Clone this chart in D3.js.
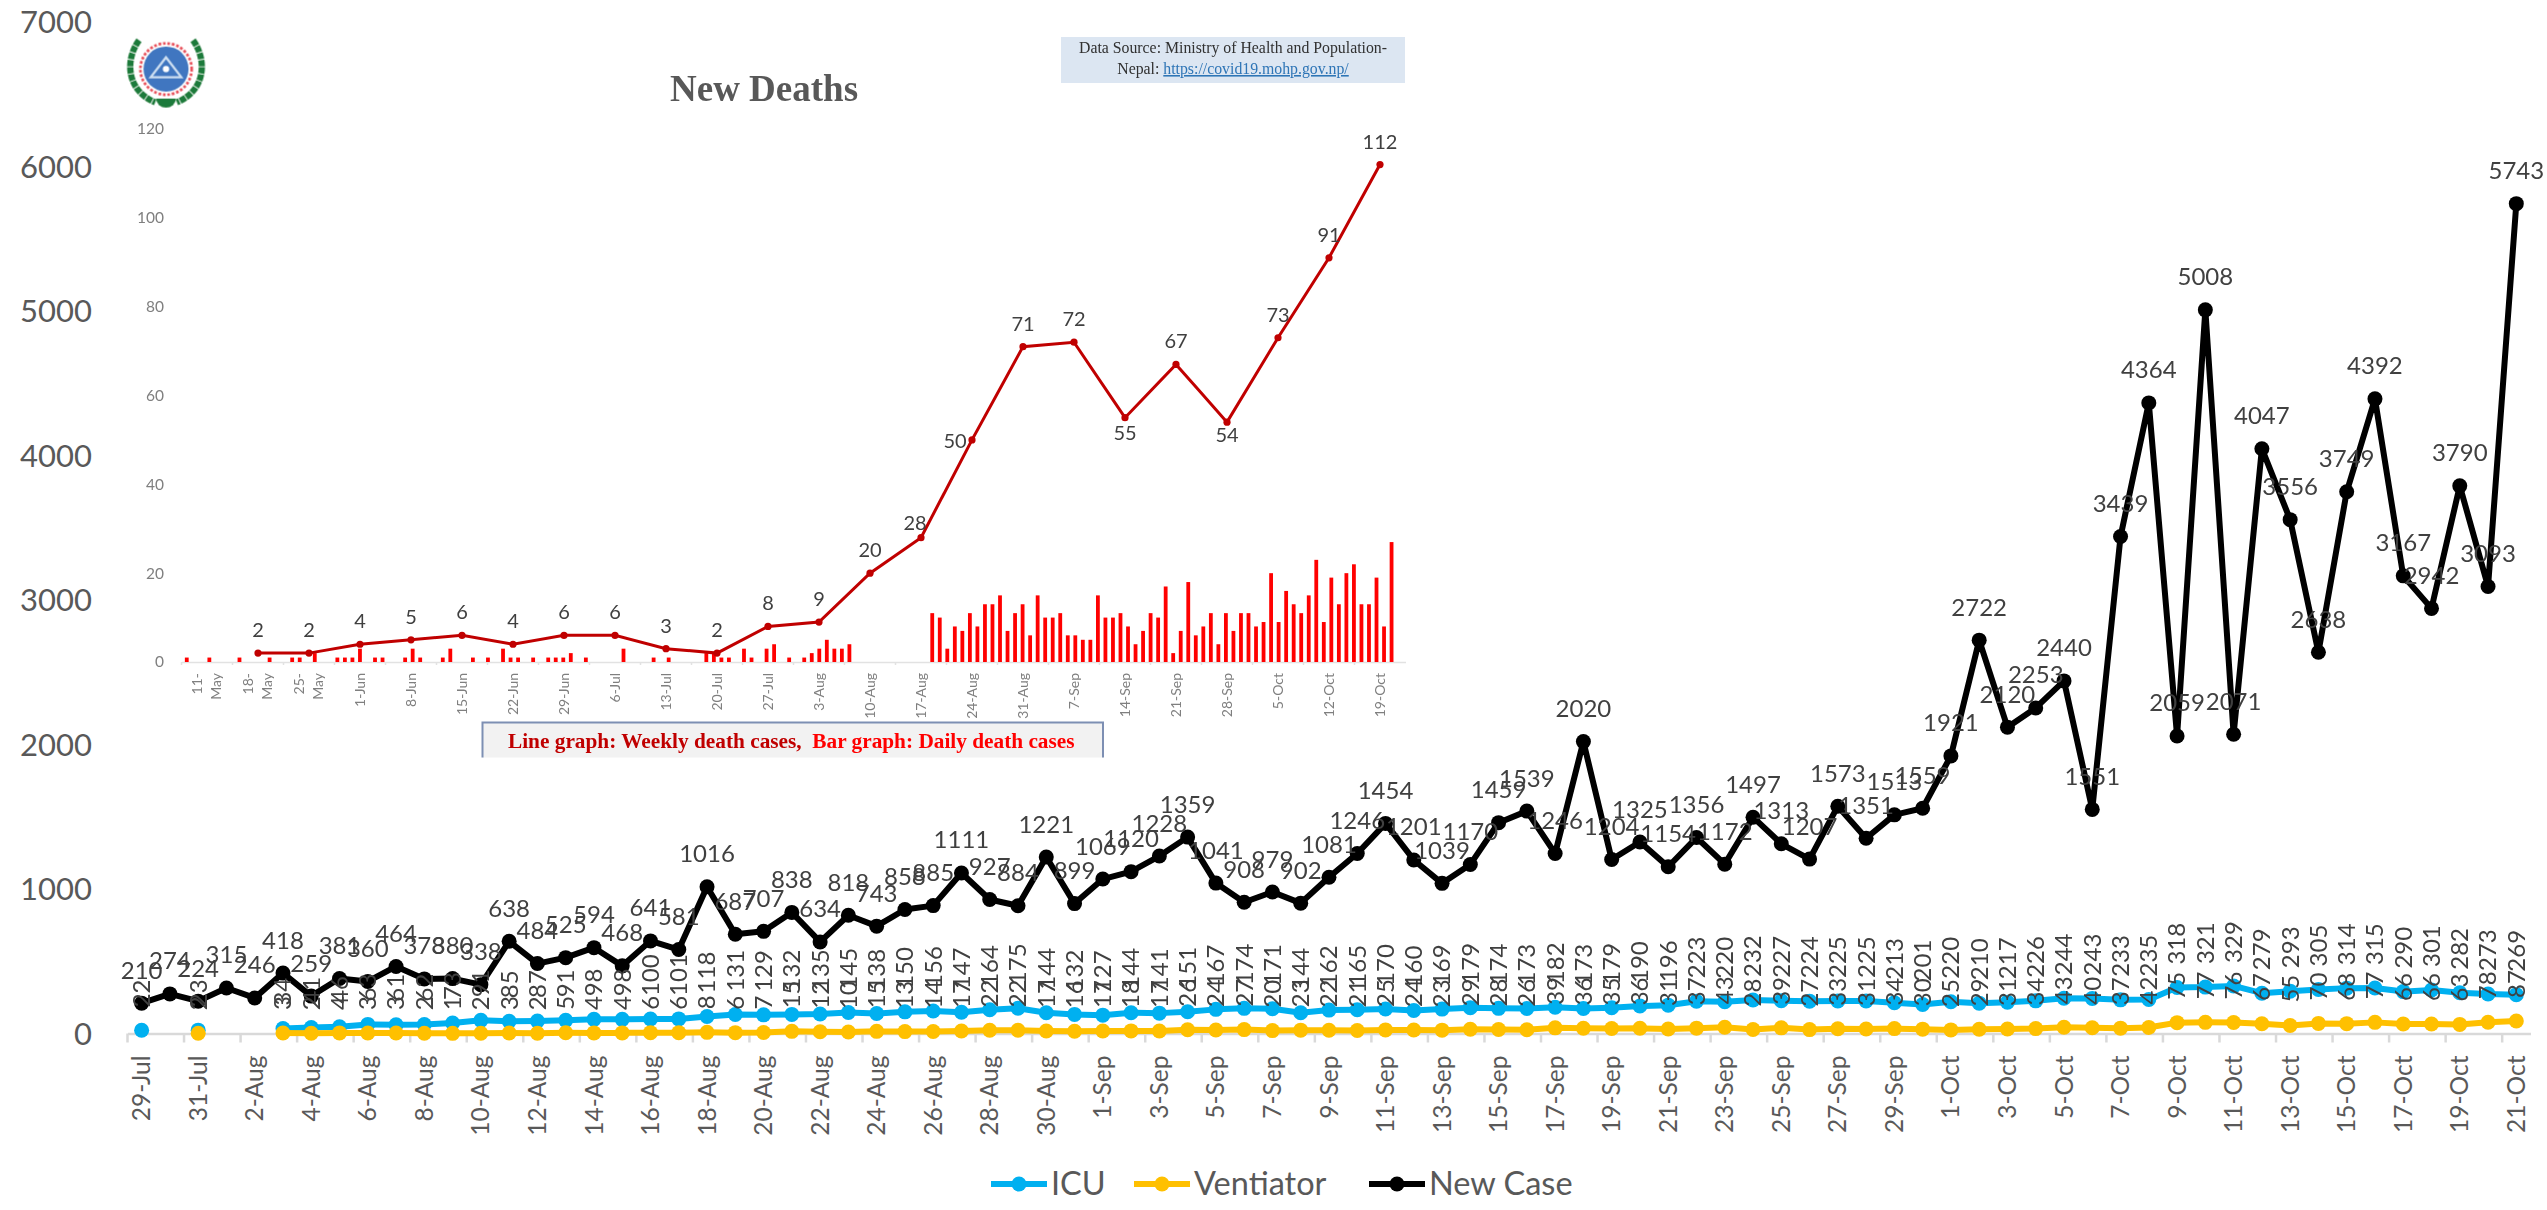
<!DOCTYPE html>
<html><head><meta charset="utf-8">
<script src="https://cdn.jsdelivr.net/npm/d3@7/dist/d3.min.js"></script>
<style>html,body{margin:0;background:#fff}svg{display:block}text{font-family:Lato,sans-serif;white-space:pre}</style>
</head><body><svg id="c" width="2547" height="1210"></svg>
<script>
// ---------- main chart data ----------
const startDate = "2020-07-29";
const newCase = [210,274,224,
 315,246,418,259,381,360,464,378,380,338,638,484,525,594,468,641,581,1016,687,707,838,634,818,743,858,885,1111,927,884,1221,899,
 1069,1120,1228,1359,1041,908,979,902,1081,1246,1454,1201,1039,1170,1459,1539,1246,2020,1204,1325,1154,1356,1172,1497,1313,1207,1573,1351,1513,1559,
 1921,2722,2120,2253,2440,1551,3439,4364,2059,5008,2071,4047,3556,2638,3749,4392,3167,2942,3790,3093,5743];
const icu = [22,null,23,null,null,34,41,46,63,61,62,73,91,85,87,91,98,98,100,101,118,131,129,132,135,145,138,150,156,147,164,175,144,132,
 127,144,141,151,167,174,171,144,162,165,170,160,169,179,174,173,182,173,179,190,196,223,220,232,227,224,225,225,213,201,
 220,210,217,226,244,243,233,235,318,321,329,279,293,305,314,315,290,301,282,273,269];
const ventilator = [null,null,2,null,null,3,2,4,3,3,2,1,2,3,2,5,4,4,6,6,8,6,7,15,12,10,15,13,14,17,22,22,17,16,
 17,18,17,26,24,27,20,23,22,21,25,24,23,29,28,26,39,36,35,36,31,37,43,28,39,27,33,31,34,30,
 25,29,31,34,43,40,37,42,75,77,76,67,55,70,68,77,66,66,63,78,87];
const yTicks = [0,1000,2000,3000,4000,5000,6000,7000];
const legendNames = ["ICU","Ventiator","New Case"];

// ---------- inset (New Deaths) data ----------
const weekLabels = ["11-May","18-May","25-May","1-Jun","8-Jun","15-Jun","22-Jun","29-Jun","6-Jul","13-Jul","20-Jul","27-Jul","3-Aug","10-Aug","17-Aug","24-Aug","31-Aug","7-Sep","14-Sep","21-Sep","28-Sep","5-Oct","12-Oct","19-Oct"];
const weeklyDeaths = [null,2,2,4,5,6,4,6,6,3,2,8,9,20,28,50,71,72,55,67,54,73,91,112];
const dailyDeaths = [1,0,0,1,0,0,0,1,0,0,
 0,1,0,0,1,1,0,2,0,0,
 1,1,1,3,0,1,1,0,0,1,
 3,1,0,0,1,3,0,0,1,0,
 1,0,3,1,1,0,1,0,1,1,
 1,2,0,1,0,0,0,0,3,0,
 0,0,1,0,1,0,0,0,0,2,
 2,1,1,0,3,1,0,3,4,0,
 1,0,1,2,3,5,3,3,4,0,
 0,0,0,0,0,0,0,0,0,
 11,10,3,8,7,11,8,13,13,15,7,11,13,6,15,10,10,11,6,6,5,5,15,10,10,11,8,4,7,11,10,17,
 2,7,18,6,8,11,4,11,7,11,11,8,9,20,9,16,13,11,15,23,9,19,13,20,22,13,13,19,8,27];
const insetYTicks = [0,20,40,60,80,100,120];

// ---------- helpers ----------
const fmt = d3.timeFormat("%-d-%b");
const d0 = d3.isoParse(startDate+"T12:00:00");
const dates = newCase.map((_,i)=>fmt(d3.timeDay.offset(d0,i)));
const svg = d3.select("#c");
const defs = svg.append("defs");
defs.append("filter").attr("id","soft").attr("x","-5%").attr("y","-5%").attr("width","110%").attr("height","110%")
  .append("feGaussianBlur").attr("stdDeviation",0.55);

// ---------- inset ----------
const ins = svg.append("g").attr("filter","url(#soft)");
const ix = d3.scaleBand().domain(weekLabels).range([181.5,1405.5]);
const iy = d3.scaleLinear().domain([0,120]).range([662,129]);
const dayX = d3.scaleBand().domain(d3.range(dailyDeaths.length)).range([183,183+161*7.53]);

// title + source box
ins.append("text").attr("x",670).attr("y",101).attr("font-size",37).attr("font-weight",700)
  .attr("fill","#595959").style("font-family","'Liberation Serif',serif").text("New Deaths");
ins.append("rect").attr("x",1061).attr("y",37).attr("width",344).attr("height",46).attr("fill","#DCE6F2");
const srcT = ins.append("g").style("font-family","'Liberation Serif',serif").attr("font-size",15.8).attr("fill","#303030");
srcT.append("text").attr("x",1233).attr("y",53).attr("text-anchor","middle").style("font-family","inherit").text("Data Source: Ministry of Health and Population-");
const t2 = srcT.append("text").attr("x",1233).attr("y",74).attr("text-anchor","middle").style("font-family","inherit");
t2.append("tspan").text("Nepal: ");
t2.append("tspan").attr("fill","#2E75B6").attr("text-decoration","underline").text("https://covid19.mohp.gov.np/");

// logo
const logo = ins.append("g").attr("transform","translate(166,69) scale(0.9)");
logo.append("path").attr("d","M-30,-32 C-46,-10 -44,24 -12,37").attr("fill","none").attr("stroke","#1f7a3a").attr("stroke-width",7).attr("stroke-dasharray","7 1");
logo.append("path").attr("d","M30,-32 C46,-10 44,24 12,37").attr("fill","none").attr("stroke","#1f7a3a").attr("stroke-width",7).attr("stroke-dasharray","7 1");
logo.append("path").attr("d","M-11,33 A11,10 0 0 0 11,33 Z").attr("fill","#1f7a3a");
logo.append("circle").attr("r",32).attr("fill","#fff");
logo.append("circle").attr("r",28.5).attr("fill","none").attr("stroke","#e8505a").attr("stroke-width",3).attr("stroke-dasharray","3 2");
logo.append("circle").attr("r",25).attr("fill","#3f76c0");
logo.append("path").attr("d","M0,-13 L17,9 L-17,9 Z").attr("fill","none").attr("stroke","#cfe0f2").attr("stroke-width",2.5);
logo.append("circle").attr("r",3.5).attr("cy",0).attr("fill","#fff");

// axes
const iAxisG = ins.append("g").attr("transform","translate(0,662)");
iAxisG.call(d3.axisBottom(ix).tickSize(0).tickFormat(""));
iAxisG.select(".domain").attr("stroke","#e2e2e2").attr("stroke-width",1.5);
iAxisG.selectAll("line.b").data(weekLabels).join("line").attr("class","b")
  .attr("x1",d=>ix(d)).attr("x2",d=>ix(d)).attr("y1",0).attr("y2",3).attr("stroke","#e2e2e2").attr("stroke-width",1.5);
iAxisG.selectAll("g.tick").each(function(d){
  const g=d3.select(this); g.select("text").remove();
  const parts = d.endsWith("May") ? d.split("-").map((s,i)=>i==0?s+"-":s) : [d];
  parts.forEach((p,i)=>{
    g.append("text").attr("transform","rotate(-90)").attr("x",-11).attr("text-anchor","end")
     .attr("y",(parts.length>1? (i==0?-10:9):0)).attr("dy","0.35em").attr("font-size",14).attr("fill","#7f7f7f").text(p);
  });
});
const iyG = ins.append("g").attr("transform","translate(164,0)")
  .call(d3.axisLeft(iy).tickValues(insetYTicks).tickSize(0).tickPadding(0));
iyG.select(".domain").remove();
iyG.selectAll("text").attr("font-size",15.5).attr("fill","#7f7f7f").style("font-family","Lato");

// daily bars
ins.append("g").selectAll("rect").data(dailyDeaths).join("rect")
  .attr("x",(d,i)=>dayX(i)+dayX.bandwidth()/2-1.9).attr("width",3.8)
  .attr("y",d=>iy(d)).attr("height",d=>iy(0)-iy(d)).attr("fill","#FF0000");

// weekly line
const iLine = d3.line().defined(d=>d!=null).x((d,i)=>ix(weekLabels[i])+ix.bandwidth()/2).y(d=>iy(d));
ins.append("path").attr("d",iLine(weeklyDeaths)).attr("fill","none").attr("stroke","#C00000").attr("stroke-width",3);
ins.append("g").selectAll("circle").data(weeklyDeaths.map((v,i)=>({v,w:weekLabels[i]})).filter(d=>d.v!=null)).join("circle")
  .attr("cx",d=>ix(d.w)+ix.bandwidth()/2).attr("cy",d=>iy(d.v)).attr("r",3.6).attr("fill","#C00000");
const nudge = {"17-Aug":[-6,8],"24-Aug":[-17,24],"14-Sep":[0,38],"28-Sep":[0,36]};
ins.append("g").selectAll("text").data(weeklyDeaths.map((v,i)=>({v,w:weekLabels[i]})).filter(d=>d.v!=null)).join("text")
  .attr("x",d=>ix(d.w)+ix.bandwidth()/2+((nudge[d.w]||[0,0])[0]))
  .attr("y",d=>iy(d.v)-16+((nudge[d.w]||[0,0])[1]))
  .attr("text-anchor","middle").attr("font-size",20).attr("fill","#404040").text(d=>d.v);

// note box
const nb = ins.append("g");
nb.append("rect").attr("x",482.5).attr("y",722.5).attr("width",620.5).attr("height",35).attr("fill","#F2F2F2");
nb.append("path").attr("d","M482.5,757.5 V722.5 H1103 V757.5").attr("fill","none").attr("stroke","#7d8fb3").attr("stroke-width",2);
const nt = nb.append("text").attr("x",508).attr("y",748).attr("font-size",21.3).attr("font-weight",700).style("font-family","'Liberation Serif',serif");
nt.append("tspan").attr("fill","#C00000").style("font-family","inherit").text("Line graph: Weekly death cases,  ");
nt.append("tspan").attr("fill","#FF0000").style("font-family","inherit").text("Bar graph: Daily death cases");

// ---------- main chart ----------
const x = d3.scaleBand().domain(dates).range([127.5,127.5+85*28.27]);
const y = d3.scaleLinear().domain([0,7000]).range([1033.5,22]);
const cx = i => x(dates[i])+x.bandwidth()/2;

const yG = svg.append("g").attr("transform","translate(92,1)")
  .call(d3.axisLeft(y).tickValues(yTicks).tickSize(0).tickPadding(0).tickFormat(d3.format("d")));
yG.select(".domain").remove();
yG.selectAll("text").attr("font-size",31).attr("fill","#595959");

const xG = svg.append("g").attr("transform","translate(0,1033.5)")
  .call(d3.axisBottom(x).tickValues(dates.filter((_,i)=>i%2==0)).tickSize(0).tickSizeOuter(0));
xG.select(".domain").attr("stroke","#D9D9D9").attr("stroke-width",2.5);
xG.selectAll("text").attr("transform","rotate(-90)").attr("x",-22).attr("y",0).attr("dy","0.35em")
  .attr("text-anchor","end").attr("font-size",24.5).attr("fill","#595959");
xG.selectAll("line.b").data(dates.filter((_,i)=>i%2==0)).join("line").attr("class","b")
  .attr("x1",d=>x(d)).attr("x2",d=>x(d)).attr("y1",0).attr("y2",9).attr("stroke","#D9D9D9").attr("stroke-width",2.5);

const series = [
  {name:legendNames[0],vals:icu,color:"#00B0F0"},
  {name:legendNames[1],vals:ventilator,color:"#FFC000"},
  {name:legendNames[2],vals:newCase,color:"#000000"}];
const line = d3.line().defined(d=>d!=null).x((d,i)=>cx(i)).y(d=>y(d));
series.forEach(s=>{
  svg.append("path").attr("d",line(s.vals)).attr("fill","none").attr("stroke",s.color).attr("stroke-width",6).attr("stroke-linejoin","round");
  svg.append("g").selectAll("circle").data(s.vals.map((v,i)=>({v,i})).filter(d=>d.v!=null)).join("circle")
    .attr("cx",d=>cx(d.i)).attr("cy",d=>y(d.v)).attr("r",7.5).attr("fill",s.color);
});
// data labels
const lab = svg.append("g").attr("fill","#404040").attr("font-size",24);
[icu,ventilator].forEach(vals=>{
  lab.append("g").selectAll("text").data(vals.map((v,i)=>({v,i})).filter(d=>d.v!=null)).join("text")
    .attr("transform",d=>`translate(${cx(d.i)},${y(d.v)-23}) rotate(-90)`).attr("dy","0.35em").text(d=>d.v);
});
lab.append("g").selectAll("text").data(newCase.map((v,i)=>({v,i}))).join("text")
  .attr("x",d=>cx(d.i)).attr("y",d=>y(d.v)-24.5).attr("text-anchor","middle").text(d=>d.v);

// legend
const legendX = d3.scaleOrdinal().domain(legendNames).range([991,1134,1369]);
const lg = svg.append("g").selectAll("g").data(series).join("g").attr("transform",d=>`translate(${legendX(d.name)},1184)`);
lg.append("line").attr("x1",0).attr("x2",56).attr("stroke",d=>d.color).attr("stroke-width",6);
lg.append("circle").attr("cx",28).attr("r",7.5).attr("fill",d=>d.color);
lg.append("text").attr("x",60).attr("dy","0.35em").attr("font-size",32.5).attr("fill","#595959").text(d=>d.name);
</script></body></html>
